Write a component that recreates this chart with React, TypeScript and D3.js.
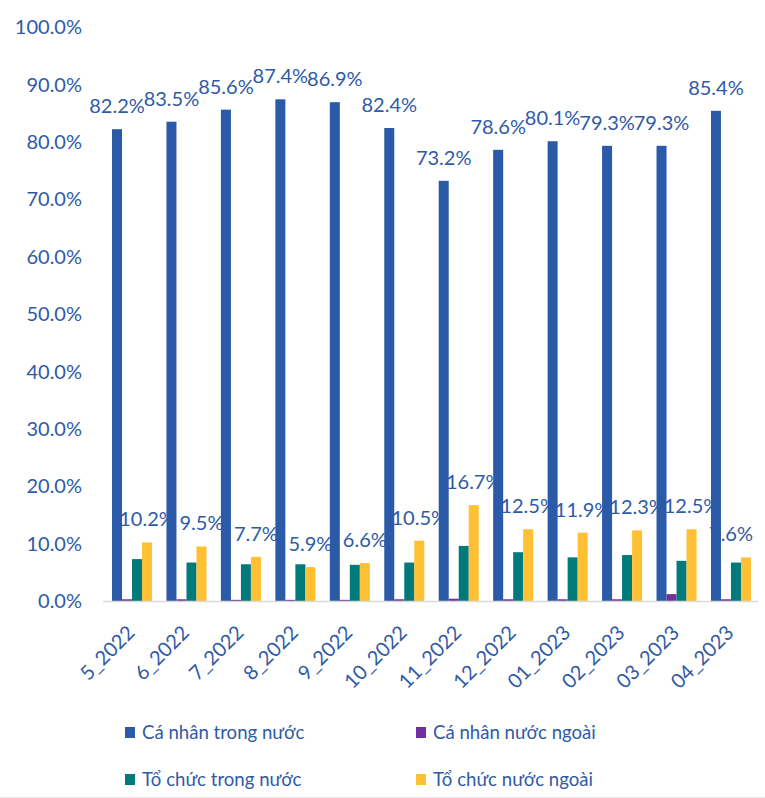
import React from "react";
import * as d3 from "d3";

const categories = ["5_2022", "6_2022", "7_2022", "8_2022", "9_2022", "10_2022", "11_2022", "12_2022", "01_2023", "02_2023", "03_2023", "04_2023"];
const seriesNames = ["Cá nhân trong nước", "Cá nhân nước ngoài", "Tổ chức trong nước", "Tổ chức nước ngoài"];
const caNhanTrongNuoc = [82.2, 83.5, 85.6, 87.4, 86.9, 82.4, 73.2, 78.6, 80.1, 79.3, 79.3, 85.4];
const caNhanNuocNgoai = [0.3, 0.3, 0.2, 0.2, 0.2, 0.3, 0.4, 0.3, 0.3, 0.3, 1.2, 0.3];
const toChucTrongNuoc = [7.3, 6.7, 6.4, 6.4, 6.3, 6.7, 9.6, 8.5, 7.6, 8.0, 7.0, 6.7];
const toChucNuocNgoai = [10.2, 9.5, 7.7, 5.9, 6.6, 10.5, 16.7, 12.5, 11.9, 12.3, 12.5, 7.6];
const yTicks = [0, 10, 20, 30, 40, 50, 60, 70, 80, 90, 100];
const colors = ["#2B5BA8", "#7030A0", "#007A7A", "#FFC133"];

const W = 765;
const H = 798;
const FONT = "Lato, 'Noto Sans', sans-serif";
const TEXT = "#2F5AA6";

export default function App() {
  const seriesData = [caNhanTrongNuoc, caNhanNuocNgoai, toChucTrongNuoc, toChucNuocNgoai];
  const x = d3.scaleBand<string>().domain(categories).range([104.8, 758.2]).paddingInner(0.265).paddingOuter(0.1325);
  const xs = d3.scaleBand<string>().domain(seriesNames).range([0, x.bandwidth()]);
  const y = d3.scaleLinear().domain([0, 100]).range([601, 27]);
  const fmt = (v: number) => d3.format(".1f")(v) + "%";
  const rightLimit = 753;

  return (
    <svg width={W} height={H} style={{ position: "absolute", left: 0, top: 0, display: "block", background: "#fff" }} fontFamily={FONT}>
      {/* y tick labels */}
      {yTicks.map((t) => (
        <text key={t} x={82} y={y(t)} dy="0.36em" textAnchor="end" fontSize={20} fill={TEXT}>
          {fmt(t)}
        </text>
      ))}
      {/* yellow labels drawn beneath bars */}
      {categories.map((c, i) => {
        const cx = (x(c) as number) + (xs(seriesNames[3]) as number) + xs.bandwidth() / 2;
        const label = fmt(toChucNuocNgoai[i]);
        const half = 22;
        const over = cx + half > rightLimit;
        return (
          <text key={"yl" + c} x={over ? rightLimit : cx} y={y(toChucNuocNgoai[i]) - 16} textAnchor={over ? "end" : "middle"} fontSize={20} fill={TEXT}>
            {label}
          </text>
        );
      })}
      {/* bars */}
      {seriesNames.map((s, si) => (
        <g key={s} fill={colors[si]}>
          {categories.map((c, i) => (
            <rect key={c} x={(x(c) as number) + (xs(s) as number)} y={y(seriesData[si][i])} width={xs.bandwidth()} height={y(0) - y(seriesData[si][i])} />
          ))}
        </g>
      ))}
      {/* x axis line */}
      <line x1={103} x2={758} y1={601.5} y2={601.5} stroke="#D9D9D9" strokeWidth={1.5} />
      {/* blue labels */}
      {categories.map((c, i) => {
        const cx = (x(c) as number) + (xs(seriesNames[0]) as number) + xs.bandwidth() / 2;
        return (
          <text key={"bl" + c} x={cx} y={y(caNhanTrongNuoc[i]) - 16} textAnchor="middle" fontSize={20} fill={TEXT}>
            {fmt(caNhanTrongNuoc[i])}
          </text>
        );
      })}
      {/* x tick labels */}
      {categories.map((c) => {
        const cx = (x(c) as number) + x.bandwidth() / 2;
        return (
          <text key={"xl" + c} transform={`translate(${cx + 4},${634}) rotate(-45)`} textAnchor="end" fontSize={20} fill={TEXT}>
            {c}
          </text>
        );
      })}
      {/* legend */}
      {seriesNames.map((s, si) => {
        const col = si % 2;
        const row = Math.floor(si / 2);
        const lx = col === 0 ? 125 : 416;
        const ly = row === 0 ? 727 : 774;
        return (
          <g key={"lg" + s}>
            <rect x={lx} y={ly} width={10} height={11} fill={colors[si]} />
            <text x={lx + 17} y={ly + 12} fontSize={18.6} fill={TEXT}>
              {s}
            </text>
          </g>
        );
      })}
      <line x1={0} x2={W} y1={797.5} y2={797.5} stroke="#E6E6E6" strokeWidth={1} />
    </svg>
  );
}
